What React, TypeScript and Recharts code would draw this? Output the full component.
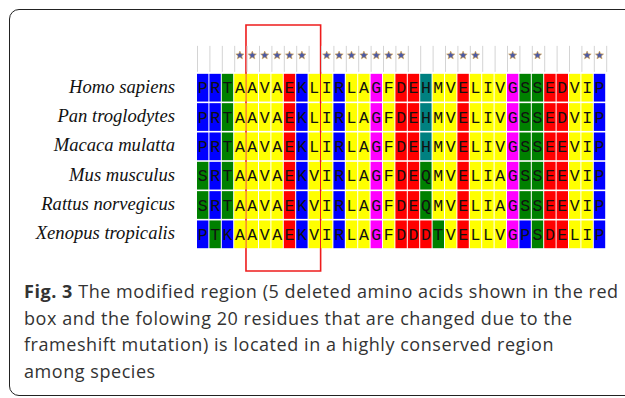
import React from 'react';
import { ScatterChart, Scatter, XAxis, YAxis, ReferenceArea } from 'recharts';

const SPECIES = [
  'Homo sapiens',
  'Pan troglodytes',
  'Macaca mulatta',
  'Mus musculus',
  'Rattus norvegicus',
  'Xenopus tropicalis',
];

const SEQUENCES = [
  'PRTAAVAEKLIRLAGFDEHMVELIVGSSEDVIP',
  'PRTAAVAEKLIRLAGFDEHMVELIVGSSEDVIP',
  'PRTAAVAEKLIRLAGFDEHMVELIVGSSEEVIP',
  'SRTAAVAEKVIRLAGFDEQMVELIAGSSEEVIP',
  'SRTAAVAEKVIRLAGFDEQMVELIAGSSEEVIP',
  'PTKAAVAEKVIRLAGFDDDTVELLVGPSDELIP',
];

const CAPTION = [
  'The modified region (5 deleted amino acids shown in the red',
  'box and the folowing 20 residues that are changed due to the',
  'frameshift mutation) is located in a highly conserved region',
  'among species',
];

// red box around the modified region, in column / row units
const BOX_X = [3.95, 9.97];
const BOX_Y = [-1.64, 6.75];

const COLORS: Record<string, string> = {
  P: '#0000ff', R: '#0000ff', K: '#0000ff',
  T: '#008000', S: '#008000', Q: '#008000',
  A: '#ffff00', V: '#ffff00', L: '#ffff00', I: '#ffff00', M: '#ffff00', F: '#ffff00',
  E: '#ff0000', D: '#ff0000',
  G: '#ff00ff',
  H: '#008080',
};

const W = 625;
const H = 398;
const margin = { top: 43.7, right: 18.8, bottom: 149, left: 0 };
const AXIS_W = 197;
const nCols = SEQUENCES[0].length;
const pitch = (W - AXIS_W - margin.right) / nCols;
const rowH = (H - margin.top - margin.bottom) / (SPECIES.length + 1);

const cells = SEQUENCES.flatMap((seq, r) =>
  seq.split('').map((aa, i) => ({ col: i + 0.5, row: r + 0.5, aa }))
);

const header = SEQUENCES[0].split('').map((_, i) => ({
  col: i + 0.5,
  row: -0.5,
  conserved: SEQUENCES.every((s) => s[i] === SEQUENCES[0][i]),
}));

const CellShape = (props: any) => {
  const { cx, cy, payload } = props;
  const x = cx - pitch / 2;
  const y = cy - rowH / 2;
  return (
    <g>
      <rect x={x} y={y + 0.8} width={pitch - 1} height={rowH - 1.6} fill={COLORS[payload.aa] || '#ccc'} />
      <text
        x={cx - 0.5}
        y={cy + 5.5}
        textAnchor="middle"
        fontFamily="'Liberation Mono', monospace"
        fontSize={16.5}
        fill="#111"
      >
        {payload.aa}
      </text>
    </g>
  );
};

const star = (cx: number, cy: number, R: number) => {
  const pts: string[] = [];
  for (let k = 0; k < 10; k++) {
    const rr = k % 2 === 0 ? R : R * 0.45;
    const a = -Math.PI / 2 + (k * Math.PI) / 5;
    pts.push(`${cx + rr * Math.cos(a)},${cy + rr * Math.sin(a)}`);
  }
  return pts.join(' ');
};

const HeaderShape = (props: any) => {
  const { cx, cy, payload } = props;
  const x = cx - pitch / 2;
  return (
    <g>
      <line x1={x + 0.5} x2={x + 0.5} y1={cy - 12.5} y2={cy + 13.5} stroke="#d4d4d4" strokeWidth={1} />
      {payload.col === nCols - 0.5 && (
        <line x1={x + pitch + 0.5} x2={x + pitch + 0.5} y1={cy - 12.5} y2={cy + 13.5} stroke="#d4d4d4" strokeWidth={1} />
      )}
      {payload.conserved && (
        <polygon points={star(cx - 0.5, cy - 3, 4.3)} fill="#4b5aa6" stroke="#d8a54a" strokeWidth={0.6} />
      )}
    </g>
  );
};

const SpeciesTick = (props: any) => {
  const { x, y, payload } = props;
  return (
    <text
      x={x}
      y={y + 5}
      textAnchor="end"
      fontFamily="'Liberation Serif', serif"
      fontStyle="italic"
      fontSize={18.6}
      fill="#111"
    >
      {SPECIES[Math.floor(payload.value)]}
    </text>
  );
};

export default function App() {
  return (
    <div style={{ position: 'absolute', left: 0, top: 0, width: W, height: H, overflow: 'hidden', background: '#fff' }}>
      <div
        style={{
          position: 'absolute',
          left: 9,
          top: 8.5,
          width: 700,
          height: 385,
          border: '1.5px solid #222',
          borderRadius: 10,
        }}
      />
      <div style={{ position: 'absolute', left: 0, top: 0 }}>
        <ScatterChart width={W} height={H} margin={margin}>
          <XAxis type="number" dataKey="col" domain={[0, nCols]} hide />
          <YAxis
            type="number"
            dataKey="row"
            domain={[-1, SPECIES.length]}
            reversed
            width={AXIS_W}
            ticks={SPECIES.map((_, i) => i + 0.5)}
            tick={<SpeciesTick />}
            tickSize={0}
            tickMargin={22}
            axisLine={false}
            tickLine={false}
            interval={0}
          />
          <Scatter data={header} shape={<HeaderShape />} isAnimationActive={false} />
          <Scatter data={cells} shape={<CellShape />} isAnimationActive={false} />
          <ReferenceArea
            x1={BOX_X[0]}
            x2={BOX_X[1]}
            y1={BOX_Y[0]}
            y2={BOX_Y[1]}
            ifOverflow="visible"
            fill="none"
            stroke="#ee1c1c"
            strokeWidth={1.6}
          />
        </ScatterChart>
      </div>
      <div
        style={{
          position: 'absolute',
          left: 24,
          top: 278,
          fontFamily: "'Open Sans', sans-serif",
          fontSize: 18,
          letterSpacing: 0.55,
          lineHeight: '26.5px',
          color: '#333',
          whiteSpace: 'nowrap',
        }}
      >
        {CAPTION.map((line, i) => (
          <div key={i}>
            {i === 0 && <b>Fig. 3 </b>}
            {line}
          </div>
        ))}
      </div>
    </div>
  );
}
